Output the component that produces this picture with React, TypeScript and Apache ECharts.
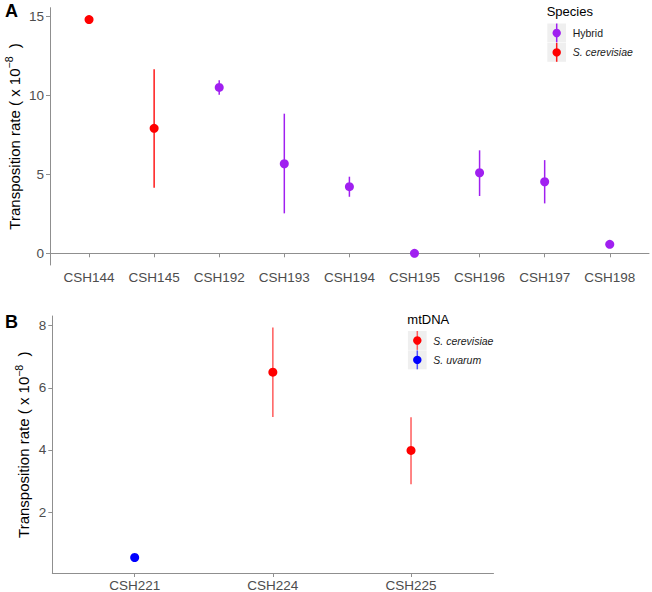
import React, { useEffect, useRef } from "react";
import * as echarts from "echarts";

// ---------- Panel A data ----------
const categoriesA = ["CSH144", "CSH145", "CSH192", "CSH193", "CSH194", "CSH195", "CSH196", "CSH197", "CSH198"];
const meanA = [14.8, 7.91, 10.5, 5.67, 4.22, 0.0, 5.1, 4.53, 0.57];
const lowerA: (number | null)[] = [null, 4.15, 10.04, 2.53, 3.58, null, 3.63, 3.16, null];
const upperA: (number | null)[] = [null, 11.66, 10.95, 8.84, 4.85, null, 6.52, 5.9, null];
const groupA = ["S. cerevisiae", "S. cerevisiae", "Hybrid", "Hybrid", "Hybrid", "Hybrid", "Hybrid", "Hybrid", "Hybrid"];
const legendA = ["Hybrid", "S. cerevisiae"];
const ticksA = [0, 5, 10, 15];

// ---------- Panel B data ----------
const categoriesB = ["CSH221", "CSH224", "CSH225"];
const meanB = [0.53, 6.5, 3.98];
const lowerB: (number | null)[] = [null, 5.06, 2.89];
const upperB: (number | null)[] = [null, 7.94, 5.05];
const groupB = ["S. uvarum", "S. cerevisiae", "S. cerevisiae"];
const legendB = ["S. cerevisiae", "S. uvarum"];
const ticksB = [2, 4, 6, 8];

const POINT_COLOR: Record<string, string> = {
  Hybrid: "#a020f0",
  "S. cerevisiae": "#ff0000",
  "S. uvarum": "#0000ff",
};
const BAR_COLOR_A: Record<string, string> = {
  Hybrid: "#a020f0",
  "S. cerevisiae": "#ff1a1a",
};
const BAR_COLOR_B: Record<string, string> = {
  "S. cerevisiae": "#ff5c5c",
  "S. uvarum": "#5050ff",
};

const FONT = "Liberation Sans, Arial, sans-serif";
const AXIS_COLOR = "#8f8f8f";
const LABEL_COLOR = "#4d4d4d";

const yName = "{t|Transposition rate ( x 10}{s|−8}{t|  )}";
const yNameRich = {
  t: { fontSize: 15, fill: "#000", fontFamily: FONT, fontWeight: "normal", verticalAlign: "bottom", lineHeight: 18 },
  s: { fontSize: 10.5, fill: "#000", fontFamily: FONT, fontWeight: "normal", verticalAlign: "top", lineHeight: 10, padding: [0, 0, 13, 0] },
};

function yTitle(cx: number, cy: number) {
  return {
    type: "text",
    x: cx,
    y: cy,
    rotation: Math.PI / 2,
    style: { text: yName, rich: yNameRich, align: "center", verticalAlign: "middle", fontFamily: FONT },
  };
}

function legendGraphic(title: string, items: string[], colors: Record<string, string>, barColors: Record<string, string>, x: number, y: number) {
  const els: any[] = [];
  els.push({
    type: "text",
    x,
    y,
    style: { text: title, fontSize: 13, fontWeight: "normal", fontFamily: FONT, fill: "#000", verticalAlign: "middle", align: "left" },
  });
  items.forEach((name, i) => {
    const ky = y + 12 + i * 19.4;
    els.push({ type: "rect", shape: { x: x + 0.6, y: ky, width: 18.7, height: 18.9 }, style: { fill: "#efefef" } });
    els.push({
      type: "line",
      shape: { x1: x + 10, y1: ky, x2: x + 10, y2: ky + 18.9 },
      style: { stroke: barColors[name], lineWidth: 1.5 },
    });
    els.push({ type: "circle", shape: { cx: x + 10, cy: ky + 9.5, r: 4.2 }, style: { fill: colors[name] } });
    els.push({
      type: "text",
      x: x + 26,
      y: ky + 9.5,
      style: {
        text: name,
        fontSize: 10.5,
        fontWeight: "normal",
        fontFamily: FONT,
        fontStyle: name === "Hybrid" ? "normal" : "italic",
        fill: "#1a1a1a",
        verticalAlign: "middle",
        align: "left",
      },
    });
  });
  return els;
}

function errorBarSeries(xIdx: number, yIdx: number, lower: (number | null)[], upper: (number | null)[], groups: string[], barColors: Record<string, string>) {
  const data = lower.map((lo, i) => [i, lo == null ? "-" : lo, upper[i] == null ? "-" : upper[i]]);
  return {
    type: "custom",
    xAxisIndex: xIdx,
    yAxisIndex: yIdx,
    encode: { x: 0, y: [1, 2] },
    data,
    z: 2,
    renderItem: (params: any, api: any) => {
      const lo = api.value(1);
      const hi = api.value(2);
      if (lo == null || hi == null || isNaN(lo) || isNaN(hi)) return null;
      const idx = api.value(0);
      const p1 = api.coord([idx, lo]);
      const p2 = api.coord([idx, hi]);
      return {
        type: "line",
        shape: { x1: p1[0], y1: p1[1], x2: p2[0], y2: p2[1] },
        style: { stroke: barColors[groups[params.dataIndex]], lineWidth: 1.5 },
      };
    },
  };
}

export default function App() {
  const ref = useRef<HTMLDivElement>(null);
  useEffect(() => {
    if (!ref.current) return;
    const chart = echarts.init(ref.current, null, { renderer: "svg" });

    const gridA = { top: 7.7, height: 257.3 };
    const gridB = { top: 316, height: 257.3 };

    const option: any = {
      animation: false,
      backgroundColor: "#ffffff",
      textStyle: { fontFamily: FONT },
      grid: [
        { left: 50, width: 599, ...gridA, containLabel: false }, // 0 A frame
        { left: 56.5, width: 585.8, ...gridA, containLabel: false }, // 1 A data
        { left: 52.3, width: 441.2, ...gridB, containLabel: false }, // 2 B frame
        { left: 65.6, width: 414.5, ...gridB, containLabel: false }, // 3 B data
      ],
      xAxis: [
        {
          gridIndex: 0, type: "value", min: 0, max: 1,
          axisLine: { show: true, lineStyle: { color: AXIS_COLOR, width: 1 } },
          axisTick: { show: false }, axisLabel: { show: false }, splitLine: { show: false },
        },
        {
          gridIndex: 1, type: "category", data: categoriesA, boundaryGap: true,
          axisLine: { show: false },
          axisTick: { show: true, alignWithLabel: true, length: 4, lineStyle: { color: AXIS_COLOR } },
          axisLabel: { color: LABEL_COLOR, fontSize: 13.5, margin: 5, fontFamily: FONT, interval: 0 },
          splitLine: { show: false },
        },
        {
          gridIndex: 2, type: "value", min: 0, max: 1,
          axisLine: { show: true, lineStyle: { color: AXIS_COLOR, width: 1 } },
          axisTick: { show: false }, axisLabel: { show: false }, splitLine: { show: false },
        },
        {
          gridIndex: 3, type: "category", data: categoriesB, boundaryGap: true,
          axisLine: { show: false },
          axisTick: { show: true, alignWithLabel: true, length: 4, lineStyle: { color: AXIS_COLOR } },
          axisLabel: { color: LABEL_COLOR, fontSize: 13.5, margin: 5, fontFamily: FONT, interval: 0 },
          splitLine: { show: false },
        },
      ],
      yAxis: [
        {
          gridIndex: 0, type: "value", min: -0.74, max: 15.55,
          axisLine: { show: true, lineStyle: { color: AXIS_COLOR, width: 1 } },
          axisTick: { show: true, length: 4, lineStyle: { color: AXIS_COLOR }, customValues: ticksA },
          axisLabel: { color: LABEL_COLOR, fontSize: 13.5, margin: 6, fontFamily: FONT, customValues: ticksA },
          splitLine: { show: false },
        },
        { gridIndex: 1, type: "value", min: -0.74, max: 15.55, show: false, splitLine: { show: false } },
        {
          gridIndex: 2, type: "value", min: 0.03, max: 8.31,
          axisLine: { show: true, lineStyle: { color: AXIS_COLOR, width: 1 } },
          axisTick: { show: true, length: 4, lineStyle: { color: AXIS_COLOR }, customValues: ticksB },
          axisLabel: { color: LABEL_COLOR, fontSize: 13.5, margin: 6, fontFamily: FONT, customValues: ticksB },
          splitLine: { show: false },
        },
        { gridIndex: 3, type: "value", min: 0.03, max: 8.31, show: false, splitLine: { show: false } },
      ],
      series: [
        errorBarSeries(1, 1, lowerA, upperA, groupA, BAR_COLOR_A),
        {
          type: "scatter", xAxisIndex: 1, yAxisIndex: 1, symbolSize: 9, z: 3,
          data: meanA.map((v, i) => ({ value: [i, v], itemStyle: { color: POINT_COLOR[groupA[i]], opacity: 1 } })),
        },
        errorBarSeries(3, 3, lowerB, upperB, groupB, BAR_COLOR_B),
        {
          type: "scatter", xAxisIndex: 3, yAxisIndex: 3, symbolSize: 9, z: 3,
          data: meanB.map((v, i) => ({ value: [i, v], itemStyle: { color: POINT_COLOR[groupB[i]], opacity: 1 } })),
        },
      ],
      graphic: [
        {
          type: "text", x: 5, y: 11,
          style: { text: "A", fontSize: 18, fontWeight: "bold", fontFamily: FONT, fill: "#000", verticalAlign: "middle" },
        },
        {
          type: "text", x: 5, y: 322,
          style: { text: "B", fontSize: 18, fontWeight: "bold", fontFamily: FONT, fill: "#000", verticalAlign: "middle" },
        },
        yTitle(12.5, 136.4),
        yTitle(22, 444.7),
        ...legendGraphic("Species", legendA, POINT_COLOR, BAR_COLOR_A, 546.7, 11.5),
        ...legendGraphic("mtDNA", legendB, POINT_COLOR, BAR_COLOR_B, 407.3, 319),
      ],
    };
    chart.setOption(option);
    return () => chart.dispose();
  }, []);

  return (
    <div
      ref={ref}
      style={{ position: "absolute", left: 0, top: 0, width: 652, height: 592, background: "#fff" }}
    />
  );
}
